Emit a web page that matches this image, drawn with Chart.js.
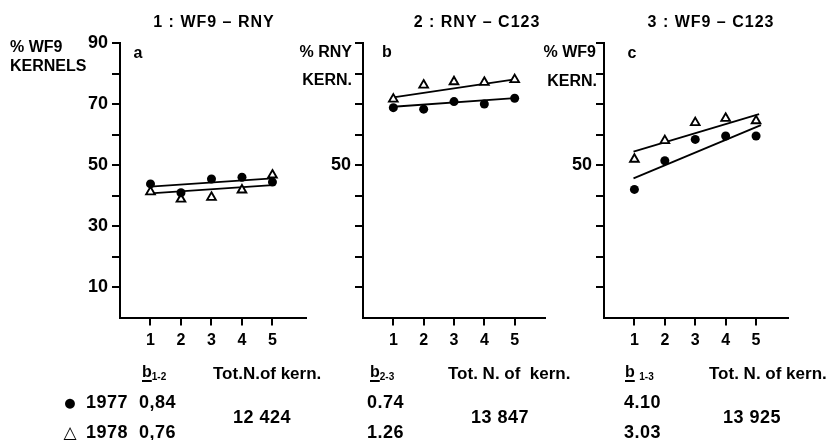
<!DOCTYPE html>
<html>
<head>
<meta charset="utf-8">
<script src="https://cdn.jsdelivr.net/npm/chart.js@4.4.0/dist/chart.umd.min.js"></script>
<style>
  html, body { margin: 0; padding: 0; background: #fff; }
  #wrap { position: relative; width: 830px; height: 440px; overflow: hidden;
    font-family: "Liberation Sans", Arial, sans-serif; font-weight: bold; color: #000; }
  canvas { position: absolute; left: 0; top: 0; }
  .t { position: absolute; white-space: nowrap; line-height: 1; transform: translateY(-50%); }
  .c { transform: translate(-50%, -50%); }
  .r { transform: translate(-100%, -50%); }
  .ttl { font-size: 16px; letter-spacing: 1px; }
  .lab { font-size: 16px; }
  .num { font-size: 18px; letter-spacing: 0.5px; }
  .tot { font-size: 17px; }
  .u { text-decoration: underline; text-decoration-thickness: 2px; text-underline-offset: 3px; }
  sub { font-size: 10px; vertical-align: -3px; }
  .sym { font-family: "DejaVu Sans", sans-serif; font-weight: bold; font-size: 13px; }
  .sym.tri { font-size: 17px; }
</style>
</head>
<body>
<div id="wrap">
  <canvas id="c1" width="830" height="440"></canvas>
  <canvas id="c2" width="830" height="440"></canvas>
  <canvas id="c3" width="830" height="440"></canvas>

  <div class="t c ttl" style="left:214px;top:22px">1 : WF9 – RNY</div>
  <div class="t c ttl" style="left:477px;top:22px">2 : RNY – C123</div>
  <div class="t c ttl" style="left:711px;top:22px">3 : WF9 – C123</div>

  <div class="t lab" style="left:10px;top:47px">% WF9</div>
  <div class="t lab" style="left:10px;top:66px">KERNELS</div>
  <div class="t r lab" style="left:352px;top:52px">% RNY</div>
  <div class="t r lab" style="left:352px;top:80px">KERN.</div>
  <div class="t r lab" style="left:596px;top:52px">% WF9</div>
  <div class="t r lab" style="left:597px;top:81px">KERN.</div>

  <div class="t c lab" style="left:138px;top:53px">a</div>
  <div class="t c lab" style="left:387px;top:52px">b</div>
  <div class="t c lab" style="left:632px;top:53px">c</div>

  <div class="t lab" style="left:142px;top:373px"><span class="u">b</span><sub>1-2</sub></div>
  <div class="t lab" style="left:370px;top:373px"><span class="u">b</span><sub>2-3</sub></div>
  <div class="t lab" style="left:625px;top:373px"><span class="u">b</span>&nbsp;<sub>1-3</sub></div>
  <div class="t tot" style="left:213px;top:373px">Tot.N.of kern.</div>
  <div class="t tot" style="left:448px;top:373px">Tot. N. of &nbsp;kern.</div>
  <div class="t tot" style="left:709px;top:373px">Tot. N. of kern.</div>

  <div id="rows"></div>
</div>

<script>
// x positions (sample number) and axis ticks
const xTicks = [1, 2, 3, 4, 5];
const yTicks = [10, 20, 30, 40, 50, 60, 70, 80, 90];
const yLabels1 = [90, 70, 50, 30, 10];
const yLabels23 = [50];

// panel 1 : WF9 - RNY
const p1Dots1977 = [43.8, 40.9, 45.4, 46.0, 44.4];
const p1Tri1978 = [41.2, 38.8, 39.4, 41.8, 46.7];
const p1FitX = [1, 5];
const p1Fit1977 = [42.9, 45.6];
const p1Fit1978 = [40.7, 43.4];

// panel 2 : RNY - C123
const p2Dots1977 = [68.8, 68.3, 70.8, 70.0, 71.9];
const p2Tri1978 = [71.6, 76.2, 77.3, 77.1, 78.0];
const p2FitX = [1, 5];
const p2Fit1977 = [69.1, 71.9];
const p2Fit1978 = [72.2, 78.1];

// panel 3 : WF9 - C123
const p3Dots1977 = [42.0, 51.4, 58.4, 59.5, 59.5];
const p3Tri1978 = [51.9, 58.0, 63.9, 65.3, 64.5];
const p3Fit1977X = [0.97, 5.16];
const p3Fit1977 = [45.6, 63.1];
const p3Fit1978X = [0.97, 5.10];
const p3Fit1978 = [54.4, 66.7];

// table under the panels
const years = ["1977", "1978"];
const slopes = [["0,84", "0,76"], ["0.74", "1.26"], ["4.10", "3.03"]];
const totals = ["12 424", "13 847", "13 925"];

const pts = (xs, ys) => ys.map((y, i) => ({ x: xs[i], y }));
const FONT = "'Liberation Sans', Arial, sans-serif";

function panel(id, left, right, xMax, yLabels, dots, tris, f77x, f77, f78x, f78) {
  const AXW = 60, AXH = 40, TOP = 43, BOTTOM = 317.5;
  const axisGrid = { drawOnChartArea: false, drawTicks: true, tickLength: 8, color: "#000", lineWidth: 2 };
  const fitLine = (xs, ys) => ({
    data: pts(xs, ys), showLine: true, borderColor: "#000", borderWidth: 1.8,
    pointRadius: 0, order: 2,
  });
  return new Chart(document.getElementById(id), {
    type: "scatter",
    data: {
      datasets: [
        { label: "1977", data: pts(xTicks, dots), pointStyle: "circle", pointRadius: 4.5,
          backgroundColor: "#000", borderColor: "#000", borderWidth: 0, order: 0 },
        { label: "1978", data: pts(xTicks, tris), pointStyle: "triangle", pointRadius: 5,
          backgroundColor: "#fff", borderColor: "#000", borderWidth: 1.9, order: 0 },
        fitLine(f77x, f77),
        fitLine(f78x, f78),
      ],
    },
    options: {
      responsive: false,
      animation: false,
      layout: { padding: { left: left - AXW, right: 830 - right, top: TOP, bottom: 440 - BOTTOM - AXH } },
      plugins: { legend: { display: false }, tooltip: { enabled: false } },
      scales: {
        x: {
          type: "linear", min: 0, max: xMax,
          afterBuildTicks: (s) => { s.ticks = xTicks.map((v) => ({ value: v })); },
          afterFit: (s) => { s.height = AXH; },
          grid: axisGrid,
          border: { display: true, color: "#000", width: 2 },
          ticks: { color: "#000", autoSkip: false, maxRotation: 0, padding: 5,
            font: { family: FONT, size: 16, weight: "bold" } },
        },
        y: {
          min: 0, max: 90,
          afterBuildTicks: (s) => { s.ticks = yTicks.map((v) => ({ value: v })); },
          afterFit: (s) => { s.width = AXW; },
          grid: axisGrid,
          border: { display: true, color: "#000", width: 2 },
          ticks: { color: "#000", autoSkip: false, padding: 4,
            callback: (v) => (yLabels.includes(v) ? String(v) : ""),
            font: { family: FONT, size: 18, weight: "bold" } },
        },
      },
    },
  });
}

panel("c1", 120, 306, 6.1, yLabels1, p1Dots1977, p1Tri1978, p1FitX, p1Fit1977, p1FitX, p1Fit1978);
panel("c2", 363, 545, 6.0, yLabels23, p2Dots1977, p2Tri1978, p2FitX, p2Fit1977, p2FitX, p2Fit1978);
panel("c3", 604, 788, 6.05, yLabels23, p3Dots1977, p3Tri1978, p3Fit1977X, p3Fit1977, p3Fit1978X, p3Fit1978);

// table text
const rows = document.getElementById("rows");
const add = (html, x, y, cls) => {
  const d = document.createElement("div");
  d.className = "t " + cls;
  d.style.left = x + "px";
  d.style.top = y + "px";
  d.innerHTML = html;
  rows.appendChild(d);
};
const rowY = [402, 432];
const syms = ["●", "△"];
const symCls = ["c sym", "c sym tri"];
const valX = [139, 367, 624];
const totX = [262, 500, 752];
years.forEach((yr, r) => {
  add(syms[r], 70, rowY[r], symCls[r]);
  add(yr, 86, rowY[r], "num");
  slopes.forEach((s, p) => add(s[r], valX[p], rowY[r], "num"));
});
totals.forEach((t, p) => add(t, totX[p], 417, "c num"));
</script>
</body>
</html>
